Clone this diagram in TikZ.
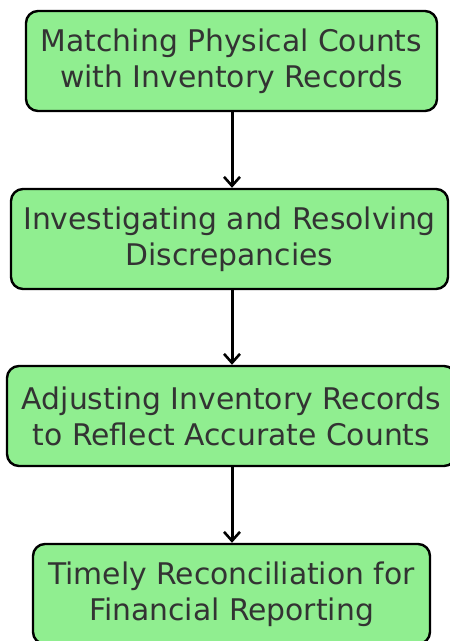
\documentclass[tikz,border=0pt]{standalone}
\usepackage{fontspec}
\setmainfont{DejaVu Sans}
\usetikzlibrary{arrows.meta}

\definecolor{boxgreen}{HTML}{90EE90}
\definecolor{textgray}{HTML}{333333}

\begin{document}
\begin{tikzpicture}[x=1pt,y=1pt,
    stepbox/.style={draw=black,line width=2.4pt,fill=boxgreen,rounded corners=12pt,
      minimum height=100pt,align=center,text=textgray,
      font=\fontsize{29.8}{36}\selectfont},
    flow/.style={-{Straight Barb[length=9pt,width=16pt,line width=2.6pt]},line width=3pt}]
    \useasboundingbox (0,0) rectangle (450,-641);
    \node[stepbox,minimum width=411pt] (match) at (231.5,-61)
      {Matching Physical Counts\\with Inventory Records};
    \node[stepbox,minimum width=437pt] (resolve) at (229.5,-239)
      {Investigating and Resolving\\Discrepancies};
    \node[stepbox,minimum width=449pt] (adjust) at (231.5,-416)
      {Adjusting Inventory Records\\to Reflect Accurate Counts};
    \node[stepbox,minimum width=397pt] (report) at (231.5,-594)
      {Timely Reconciliation for\\Financial Reporting};
    \draw[flow] (match.south -| 232,0) -- (resolve.north -| 232,0);
    \draw[flow] (resolve.south -| 232,0) -- (adjust.north -| 232,0);
    \draw[flow] (adjust.south -| 232,0) -- (report.north -| 232,0);
  \end{tikzpicture}
\end{document}
